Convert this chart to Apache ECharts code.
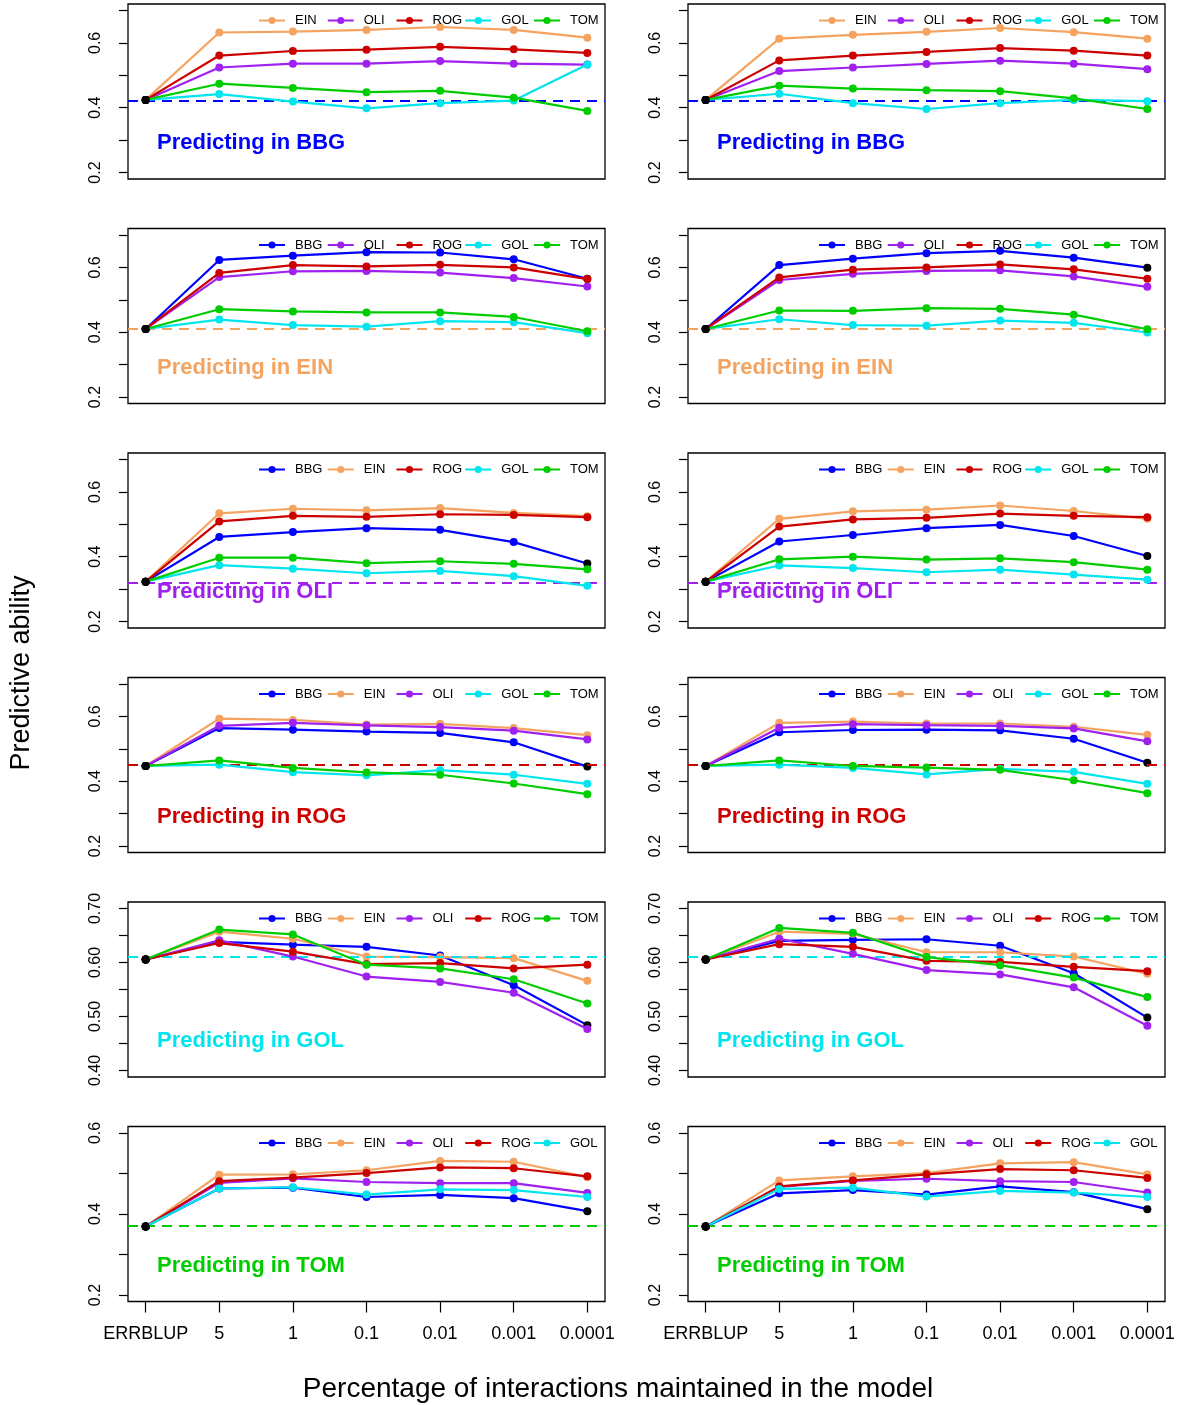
<!DOCTYPE html>
<html><head><meta charset="utf-8">
<script src="https://cdn.jsdelivr.net/npm/echarts@6/dist/echarts.min.js"></script>
<style>html,body{margin:0;padding:0;background:#fff}#c{width:1180px;height:1405px}</style>
</head><body><div id="c"></div>
<script>
// ---------- data ----------
const categories = ['ERRBLUP', '5', '1', '0.1', '0.01', '0.001', '0.0001'];
const populations = ['BBG', 'EIN', 'OLI', 'ROG', 'GOL', 'TOM'];
const popColors = ['#0000FF', '#F4A460', '#A020F0', '#CD0000', '#00E5EE', '#00CD00'];
// ERRBLUP predictive ability for each predicted population (start of every line, dashed reference)
const baseline = [0.424, 0.410, 0.323, 0.447, 0.6056, 0.369];

// y-axis ticks / labels
const yTicksStd = [0.2, 0.3, 0.4, 0.5, 0.6, 0.7];
const yLabelsStd = [0.2, 0.4, 0.6];
const yTicksGOL = [0.40, 0.45, 0.50, 0.55, 0.60, 0.65, 0.70];
const yLabelsGOL = [0.40, 0.50, 0.60, 0.70];
const yTicksTOM = [0.2, 0.3, 0.4, 0.5, 0.6];
const yLabelsTOM = [0.2, 0.4, 0.6];

// values for 5, 1, 0.1, 0.01, 0.001, 0.0001 (% interactions kept)
// left column
const leftBBG = {
  EIN: [0.632, 0.635, 0.640, 0.649, 0.640, 0.616],
  OLI: [0.524, 0.536, 0.536, 0.544, 0.536, 0.533],
  ROG: [0.561, 0.575, 0.579, 0.588, 0.580, 0.569],
  GOL: [0.442, 0.419, 0.398, 0.414, 0.422, 0.533],
  TOM: [0.474, 0.461, 0.448, 0.452, 0.431, 0.390]
};
const leftEIN = {
  BBG: [0.623, 0.636, 0.647, 0.646, 0.625, 0.565],
  OLI: [0.570, 0.588, 0.589, 0.584, 0.567, 0.541],
  ROG: [0.583, 0.607, 0.603, 0.608, 0.600, 0.564],
  GOL: [0.439, 0.422, 0.417, 0.434, 0.431, 0.397],
  TOM: [0.471, 0.464, 0.461, 0.461, 0.447, 0.403]
};
const leftOLI = {
  BBG: [0.461, 0.476, 0.488, 0.483, 0.445, 0.379],
  EIN: [0.534, 0.548, 0.543, 0.550, 0.535, 0.525],
  ROG: [0.509, 0.526, 0.523, 0.531, 0.529, 0.522],
  GOL: [0.374, 0.363, 0.349, 0.356, 0.340, 0.310],
  TOM: [0.397, 0.397, 0.380, 0.386, 0.378, 0.361]
};
const leftROG = {
  BBG: [0.564, 0.559, 0.553, 0.549, 0.520, 0.445],
  EIN: [0.593, 0.589, 0.575, 0.577, 0.564, 0.542],
  OLI: [0.571, 0.580, 0.572, 0.567, 0.556, 0.529],
  GOL: [0.451, 0.428, 0.418, 0.434, 0.420, 0.392],
  TOM: [0.464, 0.441, 0.427, 0.420, 0.393, 0.360]
};
const leftGOL = {
  BBG: [0.638, 0.633, 0.629, 0.613, 0.558, 0.484],
  EIN: [0.657, 0.644, 0.611, 0.610, 0.608, 0.566],
  OLI: [0.641, 0.611, 0.574, 0.564, 0.544, 0.477],
  ROG: [0.636, 0.620, 0.597, 0.599, 0.589, 0.596],
  TOM: [0.661, 0.652, 0.596, 0.589, 0.569, 0.524]
};
const leftTOM = {
  BBG: [0.463, 0.465, 0.442, 0.447, 0.439, 0.407],
  EIN: [0.497, 0.498, 0.508, 0.531, 0.529, 0.491],
  OLI: [0.477, 0.488, 0.479, 0.476, 0.476, 0.452],
  ROG: [0.481, 0.490, 0.501, 0.515, 0.513, 0.493],
  GOL: [0.463, 0.466, 0.448, 0.461, 0.459, 0.442]
};
// right column
const rightBBG = {
  EIN: [0.613, 0.625, 0.634, 0.646, 0.633, 0.613],
  OLI: [0.513, 0.524, 0.535, 0.545, 0.536, 0.519],
  ROG: [0.546, 0.561, 0.572, 0.584, 0.576, 0.561],
  GOL: [0.443, 0.414, 0.396, 0.414, 0.424, 0.420],
  TOM: [0.468, 0.459, 0.454, 0.451, 0.429, 0.396]
};
const rightEIN = {
  BBG: [0.607, 0.627, 0.644, 0.651, 0.630, 0.599],
  OLI: [0.561, 0.580, 0.589, 0.591, 0.572, 0.540],
  ROG: [0.569, 0.593, 0.600, 0.609, 0.594, 0.565],
  GOL: [0.440, 0.422, 0.420, 0.436, 0.429, 0.399],
  TOM: [0.467, 0.466, 0.474, 0.472, 0.454, 0.409]
};
const rightOLI = {
  BBG: [0.447, 0.467, 0.488, 0.498, 0.464, 0.402],
  EIN: [0.517, 0.540, 0.545, 0.558, 0.541, 0.517],
  ROG: [0.493, 0.515, 0.520, 0.533, 0.526, 0.522],
  GOL: [0.373, 0.365, 0.352, 0.360, 0.345, 0.329],
  TOM: [0.392, 0.400, 0.391, 0.395, 0.383, 0.360]
};
const rightROG = {
  BBG: [0.551, 0.558, 0.559, 0.557, 0.531, 0.457],
  EIN: [0.580, 0.584, 0.578, 0.578, 0.568, 0.543],
  OLI: [0.565, 0.576, 0.573, 0.571, 0.563, 0.523],
  GOL: [0.451, 0.441, 0.421, 0.438, 0.429, 0.392],
  TOM: [0.464, 0.447, 0.442, 0.435, 0.403, 0.363]
};
const rightGOL = {
  BBG: [0.640, 0.642, 0.643, 0.631, 0.580, 0.498],
  EIN: [0.657, 0.653, 0.619, 0.619, 0.611, 0.579],
  OLI: [0.644, 0.616, 0.586, 0.578, 0.554, 0.483],
  ROG: [0.634, 0.629, 0.603, 0.601, 0.592, 0.584],
  TOM: [0.664, 0.655, 0.610, 0.595, 0.572, 0.536]
};
const rightTOM = {
  BBG: [0.451, 0.459, 0.448, 0.468, 0.454, 0.412],
  EIN: [0.483, 0.493, 0.501, 0.525, 0.528, 0.498],
  OLI: [0.467, 0.482, 0.487, 0.481, 0.479, 0.453],
  ROG: [0.468, 0.483, 0.498, 0.511, 0.508, 0.489],
  GOL: [0.462, 0.465, 0.443, 0.457, 0.453, 0.442]
};

const leftPanels = [leftBBG, leftEIN, leftOLI, leftROG, leftGOL, leftTOM];
const rightPanels = [rightBBG, rightEIN, rightOLI, rightROG, rightGOL, rightTOM];

// ---------- layout ----------
const FONT = 'Liberation Sans, Arial, Helvetica, sans-serif';
const GRID_LEFT = [128, 688];
const GRID_W = 477;
const GRID_H = 175;
const ROW_TOP = [4, 228.5, 453, 677.5, 902, 1126.5];
const LEGEND_PITCH = 68.75;
const yRange = [[0.18, 0.72], [0.18, 0.72], [0.18, 0.72], [0.18, 0.72], [0.388, 0.712], [0.184, 0.616]];
const yTicks = [yTicksStd, yTicksStd, yTicksStd, yTicksStd, yTicksGOL, yTicksTOM];
const yLabels = [yLabelsStd, yLabelsStd, yLabelsStd, yLabelsStd, yLabelsGOL, yLabelsTOM];
const xPos = categories.map((_, i) => i + 1);

const option = {
  animation: false,
  backgroundColor: '#fff',
  textStyle: { fontFamily: FONT },
  grid: [], xAxis: [], yAxis: [], series: [], legend: [], title: [], graphic: []
};

let gi = 0;
for (let r = 0; r < 6; r++) {
  for (let c = 0; c < 2; c++) {
    const pred = populations[r];
    const panel = (c === 0 ? leftPanels : rightPanels)[r];
    const others = populations.filter(p => p !== pred);
    option.grid.push({
      left: GRID_LEFT[c], top: ROW_TOP[r], width: GRID_W, height: GRID_H,
      show: true, borderColor: '#000', borderWidth: 1.3, backgroundColor: 'transparent'
    });
    option.xAxis.push({
      gridIndex: gi, type: 'value', min: 0.76, max: 7.24,
      splitLine: { show: false }, axisLine: { show: false },
      axisTick: { show: r === 5, length: 11, customValues: xPos, lineStyle: { color: '#000', width: 1.2 } },
      axisLabel: { show: r === 5, customValues: xPos, formatter: v => categories[Math.round(v) - 1],
                   fontSize: 18, color: '#000', margin: 24, fontFamily: FONT }
    });
    option.yAxis.push({
      gridIndex: gi, type: 'value', min: yRange[r][0], max: yRange[r][1],
      splitLine: { show: false }, axisLine: { show: false },
      axisTick: { show: true, length: 9, customValues: yTicks[r], lineStyle: { color: '#000', width: 1.2 } },
      axisLabel: { customValues: yLabels[r], rotate: 90, fontSize: 16, color: '#000', margin: 24,
                   fontFamily: FONT, formatter: v => (r === 4 ? v.toFixed(2) : v.toFixed(1)) }
    });
    others.forEach((p, k) => {
      const pi = populations.indexOf(p);
      const vals = [baseline[r]].concat(panel[p]);
      const data = vals.map((v, i) => {
        const item = { value: [xPos[i], v] };
        if (i === 0 || (p === 'BBG' && i === vals.length - 1)) item.itemStyle = { color: '#000' };
        return item;
      });
      const s = {
        type: 'line', name: p, xAxisIndex: gi, yAxisIndex: gi, data,
        color: popColors[pi], symbol: 'circle', symbolSize: 8, showSymbol: true,
        lineStyle: { width: 2.2, color: popColors[pi] }, itemStyle: { color: popColors[pi] },
        emphasis: { disabled: true }, silent: true, z: 3 + k
      };
      if (k === 0) {
        s.markLine = {
          silent: true, symbol: 'none', label: { show: false }, animation: false,
          lineStyle: { color: popColors[r], type: [10, 7], width: 2 },
          emphasis: { disabled: true },
          data: [{ yAxis: baseline[r] }]
        };
      }
      option.series.push(s);
      // one legend entry per item so the columns are evenly spaced (as in R's horizontal legend)
      option.legend.push({
        data: [p], left: GRID_LEFT[c] + 130 + k * LEGEND_PITCH, top: ROW_TOP[r] + 10,
        orient: 'horizontal', itemWidth: 26, itemHeight: 9, itemGap: 0,
        selectedMode: false, padding: 0,
        textStyle: { fontSize: 13, color: '#000', fontFamily: FONT, padding: [0, 0, 0, 5] }
      });
    });
    option.title.push({
      text: 'Predicting in ' + pred, left: GRID_LEFT[c] + 29, top: ROW_TOP[r] + 128, padding: 0,
      textStyle: { fontSize: 22, fontWeight: 'bold', color: popColors[r], fontFamily: FONT }
    });
    gi++;
  }
}

option.graphic.push({
  type: 'text', x: 22, y: 673, rotation: Math.PI / 2,
  style: { text: 'Predictive ability', fontSize: 27, fontFamily: FONT, fill: '#000',
           textAlign: 'center', textVerticalAlign: 'middle' }
});
option.graphic.push({
  type: 'text', x: 618, y: 1389,
  style: { text: 'Percentage of interactions maintained in the model', fontSize: 28, fontFamily: FONT, fill: '#000',
           textAlign: 'center', textVerticalAlign: 'middle' }
});

const chart = echarts.init(document.getElementById('c'), null, { renderer: 'canvas' });
chart.setOption(option);
</script>
</body></html>
